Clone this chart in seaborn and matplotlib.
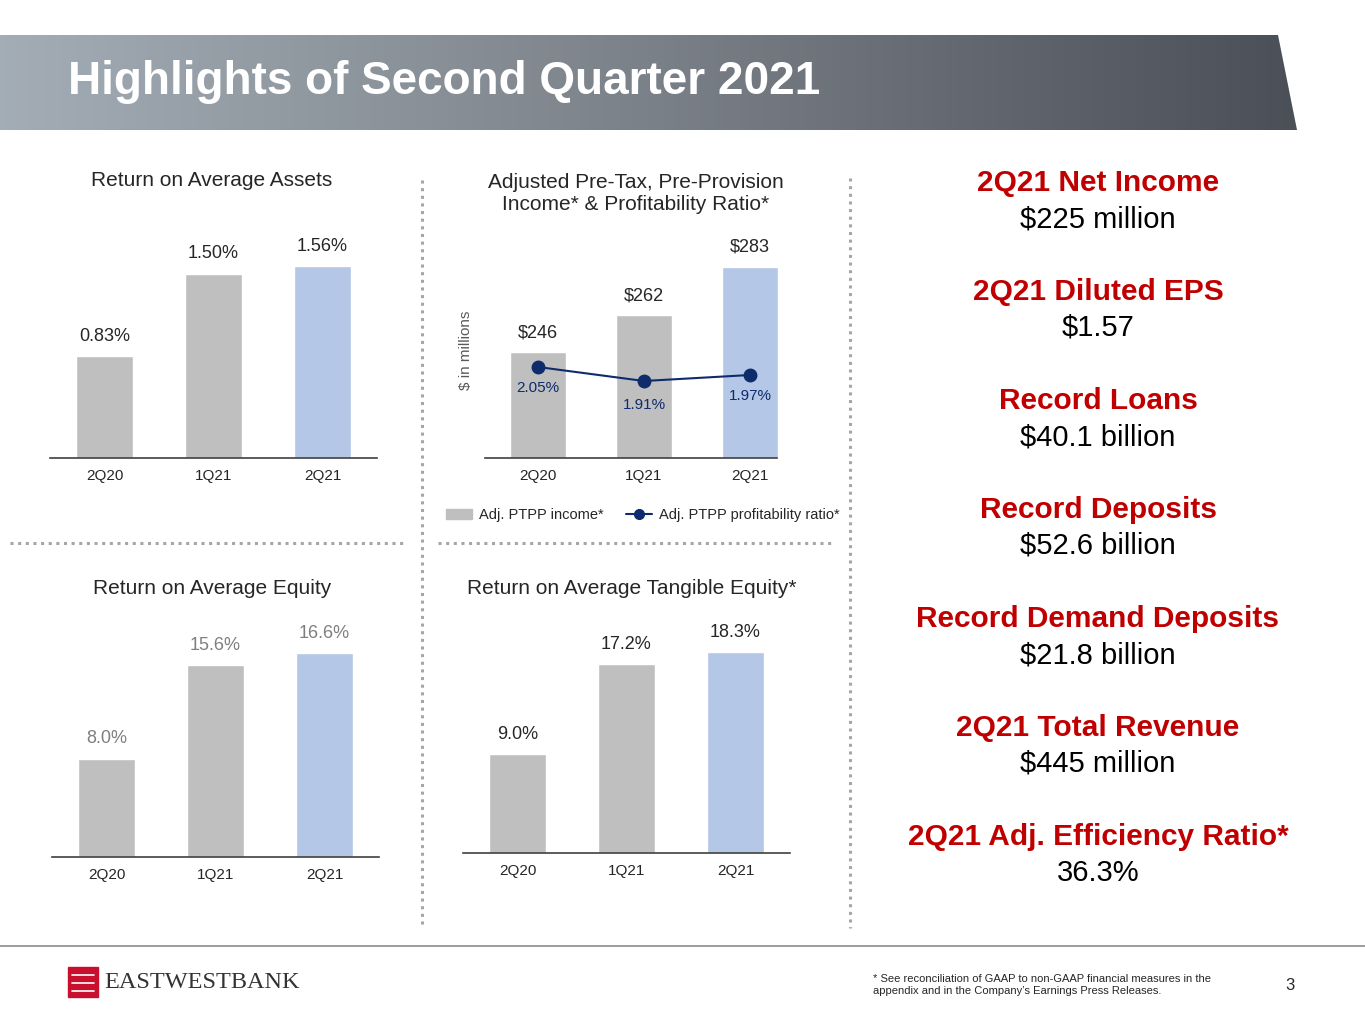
import numpy as np
import matplotlib
matplotlib.use('Agg')
import matplotlib.pyplot as plt
from matplotlib.patches import Polygon, Rectangle
from matplotlib.lines import Line2D
import seaborn as sns

sns.set_theme(style='white')
plt.rcParams['font.family'] = ['Liberation Sans', 'DejaVu Sans']

# 데이터
quarters = ['2Q20', '1Q21', '2Q21']
roa = [0.83, 1.50, 1.56]
ptpp = [246, 262, 283]
ptpp_ratio = [2.05, 1.91, 1.97]
roe = [8.0, 15.6, 16.6]
rote = [9.0, 17.2, 18.3]

highlights = [('2Q21 Net Income', '$225 million'),
              ('2Q21 Diluted EPS', '$1.57'),
              ('Record Loans', '$40.1 billion'),
              ('Record Deposits', '$52.6 billion'),
              ('Record Demand Deposits', '$21.8 billion'),
              ('2Q21 Total Revenue', '$445 million'),
              ('2Q21 Adj. Efficiency Ratio*', '36.3%')]

GRAY = '#bfbfbf'
BLUE = '#b4c7e7'
NAVY = '#0e2c6b'
RED = '#c00000'
W, H = 1365, 1024

fig = plt.figure(figsize=(13.65, 10.24), dpi=100)

# 배경 축 (픽셀 좌표)
bg = fig.add_axes([0, 0, 1, 1])
bg.set_xlim(0, W)
bg.set_ylim(H, 0)
bg.axis('off')

# 제목 배너
poly = Polygon([(0, 35), (1278, 35), (1297, 130), (0, 130)], closed=True,
               facecolor='none', edgecolor='none')
bg.add_patch(poly)
grad = np.linspace(0, 1, 256).reshape(1, -1)
cmap = matplotlib.colors.LinearSegmentedColormap.from_list('b', ['#a3adb5', '#7b8189', '#4b4f57'])
im = bg.imshow(grad, extent=[0, 1297, 130, 35], cmap=cmap, aspect='auto')
im.set_clip_path(poly)
bg.set_xlim(0, W)
bg.set_ylim(H, 0)
bg.text(68, 82, 'Highlights of Second Quarter 2021', color='white', fontsize=33,
        fontweight='bold', va='center')

# 구분선
dot = dict(color='#a6a6a6', linestyle=(0, (1, 1.5)), linewidth=2.2)
bg.plot([10, 405], [543, 543], **dot)
bg.plot([438, 832], [543, 543], **dot)
bg.plot([422, 422], [180, 928], **dot)
bg.plot([850, 850], [178, 928], **dot)
bg.plot([0, W], [946, 946], color='#8c8c8c', linewidth=1.2)


def ax_px(x0, y_top, x1, y_base):
    return fig.add_axes([x0 / W, 1 - y_base / H, (x1 - x0) / W, (y_base - y_top) / H])


def bar_panel(x0, x1, base, ymin, ymax, vals, fmt, lblcolor, title, title_y, title_x):
    ax = ax_px(x0, base - 240, x1, base)
    sns.barplot(x=quarters, y=vals, hue=quarters, palette=[GRAY, GRAY, BLUE],
                legend=False, width=0.52, ax=ax, saturation=1)
    ax.set_ylim(ymin, ymax)
    ax.set_xlim(-0.5, 2.5)
    for s in ['top', 'right', 'left']:
        ax.spines[s].set_visible(False)
    ax.spines['bottom'].set_color('#404040')
    ax.spines['bottom'].set_linewidth(1.2)
    ax.set_yticks([])
    ax.set_xlabel('')
    ax.set_ylabel('')
    ax.tick_params(axis='x', length=0, labelsize=11, colors='#262626', pad=8)
    for i, v in enumerate(vals):
        ax.annotate(fmt.format(v), (i, v), xytext=(0, 8), textcoords='offset points',
                    ha='center', va='bottom', fontsize=13, color=lblcolor)
    bg.text(title_x, title_y, title, ha='center', va='center', fontsize=15, color='#262626')
    return ax


bar_panel(50, 377, 458, 0, 240 / 123, roa, '{:.2f}%', '#262626', 'Return on Average Assets', 180, 212)
bar_panel(52, 379, 857, 0, 240 / 12.3, roe, '{:.1f}%', '#7f7f7f', 'Return on Average Equity', 588, 212)
bar_panel(463, 790, 853, 0, 240 / 11.0, rote, '{:.1f}%', '#262626', 'Return on Average Tangible Equity*', 588, 632)

# PTPP 패널
ax = bar_panel(485, 803, 458, 200, 200 + 240 / 2.3, ptpp, '${:.0f}', '#262626',
               'Adjusted Pre-Tax, Pre-Provision\nIncome* & Profitability Ratio*', 193, 636)
ax.spines['bottom'].set_bounds(-0.5, 2.25)
ax2 = ax.twinx()
ax2.plot(range(3), ptpp_ratio, color=NAVY, marker='o', markersize=9, linewidth=1.5)
ax2.set_ylim(1.14, 1.14 + 2.4)
ax2.axis('off')
for i, v in enumerate(ptpp_ratio):
    ax2.annotate(f'{v:.2f}%', (i, v), xytext=(0, -10 - (i == 1) * 2), textcoords='offset points',
                 ha='center', va='top', fontsize=11, color=NAVY)
bg.text(466, 350, '$ in millions', rotation=90, ha='center', va='center', fontsize=11, color='#595959')
handles = [Rectangle((0, 0), 1, 1, color=GRAY),
           Line2D([], [], color=NAVY, marker='o', markersize=7, linewidth=1.5)]
fig.legend(handles, ['Adj. PTPP income*', 'Adj. PTPP profitability ratio*'], ncol=2,
           loc='center', bbox_to_anchor=(643 / W, 1 - 515 / H), frameon=False, fontsize=10.5,
           handlelength=1.8, columnspacing=1.5, handletextpad=0.5)

# 오른쪽 하이라이트
for k, (h, v) in enumerate(highlights):
    y = 183 + k * 109
    bg.text(1098, y, h, ha='center', va='center', fontsize=21.5, fontweight='bold', color=RED)
    bg.text(1098, y + 36, v, ha='center', va='center', fontsize=21, color='#000000')

# 로고 및 각주
bg.add_patch(Rectangle((68, 967), 30, 30, color='#c8102e'))
for yy in [975, 983, 991]:
    bg.plot([72, 94], [yy, yy], color='white', linewidth=1.2)
bg.text(104, 983, 'EASTWESTBANK', fontsize=17.5, family=['Liberation Serif'], va='center', color='#333333')
bg.text(873, 985, '* See reconciliation of GAAP to non-GAAP financial measures in the\nappendix and in the Company\u2019s Earnings Press Releases.',
        fontsize=8, va='center', color='#262626', linespacing=1.3)
bg.text(1290, 986, '3', fontsize=12, va='center', ha='center', color='#262626')

fig.savefig('out.png', dpi=100)
